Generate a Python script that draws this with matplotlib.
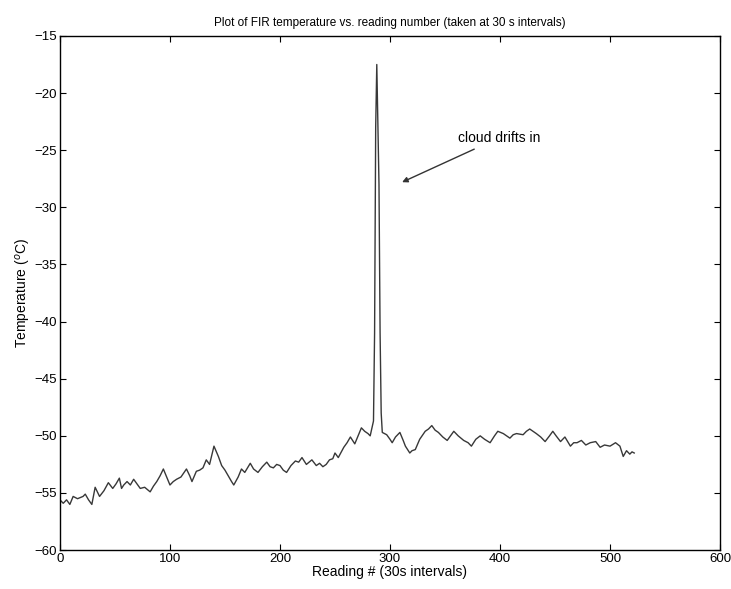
import matplotlib
matplotlib.use("Agg")
import matplotlib.pyplot as plt

# values (reading number, temperature in C)
reading_num = [0, 3, 6, 9, 12, 16, 21, 23, 26, 29, 32, 36, 40, 44, 48, 51, 54, 56, 58, 61,
               64, 67, 70, 73, 77, 82, 85, 88, 91, 94, 97, 100, 103, 106, 110, 115, 118, 120,
               124, 127, 130, 133, 136, 140, 144, 147, 150, 153, 156, 158, 162, 165, 168, 173,
               176, 180, 184, 188, 191, 194, 197, 200, 203, 206, 210, 214, 217, 220, 224, 229,
               233, 236, 239, 242, 245, 248, 250, 253, 258, 261, 264, 268, 271, 274, 277, 280,
               282, 285, 286, 287, 288, 289, 290, 291, 292, 293, 297, 300, 302, 305, 309, 312,
               314, 318, 320, 323, 327, 332, 335, 338, 341, 344, 348, 352, 355, 358, 362, 367,
               371, 374, 378, 382, 386, 391, 395, 398, 403, 409, 412, 415, 421, 424, 427, 433,
               437, 441, 445, 448, 451, 455, 459, 464, 467, 470, 474, 478, 482, 487, 491, 495,
               500, 505, 509, 512, 515, 518, 520, 522]
temp_c = [-55.6, -55.9, -55.6, -56.0, -55.3, -55.5, -55.3, -55.1, -55.6, -56.0, -54.5, -55.3,
          -54.8, -54.1, -54.6, -54.2, -53.7, -54.6, -54.3, -54.0, -54.3, -53.8, -54.2, -54.6,
          -54.5, -54.9, -54.4, -54.0, -53.5, -52.9, -53.6, -54.3, -54.0, -53.8, -53.6, -52.9,
          -53.5, -54.0, -53.1, -53.0, -52.8, -52.1, -52.5, -50.9, -51.8, -52.6, -53.0, -53.5,
          -54.0, -54.3, -53.6, -52.9, -53.2, -52.4, -52.9, -53.2, -52.7, -52.3, -52.7, -52.8,
          -52.5, -52.6, -53.0, -53.2, -52.6, -52.2, -52.3, -51.9, -52.5, -52.1, -52.6, -52.4,
          -52.7, -52.5, -52.1, -52.0, -51.5, -51.9, -51.0, -50.6, -50.1, -50.7, -50.0, -49.3,
          -49.6, -49.8, -50.0, -48.7, -41.0, -23.0, -17.5, -23.0, -28.0, -41.0, -48.0, -49.7,
          -49.9, -50.3, -50.6, -50.1, -49.7, -50.4, -50.9, -51.5, -51.3, -51.2, -50.3, -49.6,
          -49.4, -49.1, -49.5, -49.7, -50.1, -50.4, -50.0, -49.6, -50.0, -50.4, -50.6, -50.9,
          -50.3, -50.0, -50.3, -50.6, -50.0, -49.6, -49.8, -50.2, -49.9, -49.8, -49.9, -49.6,
          -49.4, -49.8, -50.1, -50.5, -50.0, -49.6, -50.0, -50.5, -50.1, -50.9, -50.6, -50.6,
          -50.4, -50.8, -50.6, -50.5, -51.0, -50.8, -50.9, -50.6, -50.9, -51.8, -51.3, -51.6,
          -51.4, -51.5]

x_ticks = [0, 100, 200, 300, 400, 500, 600]
y_ticks = [-60, -55, -50, -45, -40, -35, -30, -25, -20, -15]

plt.rcParams['font.family'] = ['Liberation Sans', 'DejaVu Sans']

fig = plt.figure(figsize=(7.31, 5.89), dpi=100)
ax = fig.add_axes([0.082, 0.066, 0.903, 0.873])

ax.plot(reading_num, temp_c, color='#383838', linewidth=1.0)

ax.set_xlim(0, 600)
ax.set_ylim(-60, -15)
ax.set_xticks(x_ticks)
ax.set_yticks(y_ticks)
ax.tick_params(direction='in', top=True, right=True, length=4, labelsize=9.5, width=0.8, pad=2)
for s in ax.spines.values():
    s.set_linewidth(1.0)

ax.set_title('Plot of FIR temperature vs. reading number (taken at 30 s intervals)', fontsize=8.5, pad=7)
ax.set_xlabel('Reading # (30s intervals)', fontsize=10, labelpad=0)
ax.set_ylabel(r'Temperature ($^{o}$C)', fontsize=10, labelpad=1)

ax.annotate('cloud drifts in', xy=(311, -27.8), xytext=(362, -23.9),
            fontsize=10, va='center',
            arrowprops=dict(arrowstyle='-|>', color='#333333', lw=1.0,
                            shrinkA=3, shrinkB=0, mutation_scale=8))

fig.savefig('out.png', dpi=100)
